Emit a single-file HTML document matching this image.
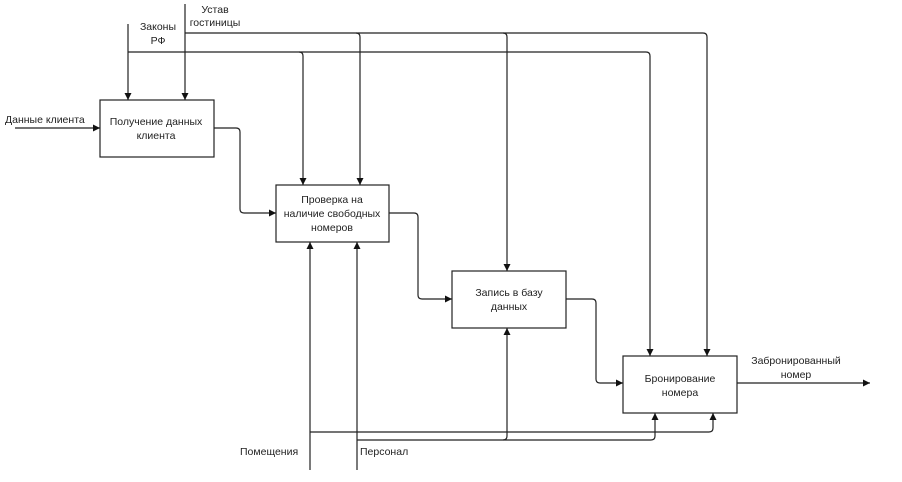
<!DOCTYPE html>
<html><head><meta charset="utf-8"><style>
html,body{margin:0;padding:0;background:#fff;}
svg{display:block;}
text{font-family:"Liberation Sans",sans-serif;font-size:10.5px;fill:#222;}
</style></head><body>
<svg width="902" height="482" viewBox="0 0 902 482" xmlns="http://www.w3.org/2000/svg">
<defs><marker id="a" markerWidth="8" markerHeight="8" refX="7" refY="4" orient="auto" markerUnits="userSpaceOnUse"><path d="M0,0.5 L7,4 L0,7.5 Z" fill="#111"/></marker></defs>
<g stroke="#222" stroke-width="1.2" fill="none">
<rect x="100" y="100" width="114" height="57"/>
<rect x="276" y="185" width="113" height="57"/>
<rect x="452" y="271" width="114" height="57"/>
<rect x="623" y="356" width="114" height="57"/>
<path d="M128 24 V100" marker-end="url(#a)"/>
<path d="M185 4 V100" marker-end="url(#a)"/>
<path d="M128 52 H646 Q650 52 650 56 V356" marker-end="url(#a)"/>
<path d="M299 52 Q303 52 303 56 V185" marker-end="url(#a)"/>
<path d="M185 33 H703 Q707 33 707 37 V356" marker-end="url(#a)"/>
<path d="M356 33 Q360 33 360 37 V185" marker-end="url(#a)"/>
<path d="M503 33 Q507 33 507 37 V271" marker-end="url(#a)"/>
<path d="M15 128 H100" marker-end="url(#a)"/>
<path d="M214 128 H236 Q240 128 240 132 V209 Q240 213 244 213 H276" marker-end="url(#a)"/>
<path d="M389 213 H414 Q418 213 418 217 V295 Q418 299 422 299 H452" marker-end="url(#a)"/>
<path d="M566 299 H592 Q596 299 596 303 V379 Q596 383 600 383 H623" marker-end="url(#a)"/>
<path d="M737 383 H870" marker-end="url(#a)"/>
<path d="M310 470 V242" marker-end="url(#a)"/>
<path d="M357 470 V242" marker-end="url(#a)"/>
<path d="M310 432 H709 Q713 432 713 428 V413" marker-end="url(#a)"/>
<path d="M357 440 H503 Q507 440 507 436 V328" marker-end="url(#a)"/>
<path d="M503 440 H651 Q655 440 655 436 V413" marker-end="url(#a)"/>
</g>
<text x="156" y="125" text-anchor="middle">Получение данных</text>
<text x="156" y="139" text-anchor="middle">клиента</text>
<text x="332" y="203" text-anchor="middle">Проверка на</text>
<text x="332" y="217" text-anchor="middle">наличие свободных</text>
<text x="332" y="231" text-anchor="middle">номеров</text>
<text x="509" y="296" text-anchor="middle">Запись в базу</text>
<text x="509" y="310" text-anchor="middle">данных</text>
<text x="680" y="382" text-anchor="middle">Бронирование</text>
<text x="680" y="396" text-anchor="middle">номера</text>
<text x="5" y="123">Данные клиента</text>
<text x="158" y="30" text-anchor="middle">Законы</text>
<text x="158" y="44" text-anchor="middle">РФ</text>
<text x="215" y="13" text-anchor="middle">Устав</text>
<text x="215" y="26" text-anchor="middle">гостиницы</text>
<text x="796" y="364" text-anchor="middle">Забронированный</text>
<text x="796" y="378" text-anchor="middle">номер</text>
<text x="240" y="455">Помещения</text>
<text x="360" y="455">Персонал</text>
</svg>
</body></html>
